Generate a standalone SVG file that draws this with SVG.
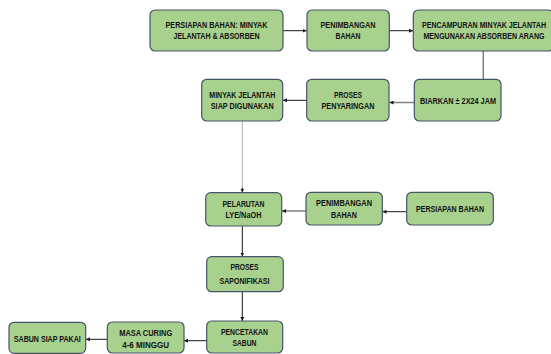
<svg xmlns="http://www.w3.org/2000/svg" width="551" height="354" viewBox="0 0 551 354">
<style>
.b{fill:#A9D18E;stroke:#44546A;stroke-width:1.2}
.t{font-family:"Liberation Sans",Arial,sans-serif;font-weight:bold;font-size:8.5px;fill:#111;text-anchor:middle}
.c{fill:none;stroke:#1a1a1a;stroke-width:1}
.g{fill:none;stroke:#7f7f7f;stroke-width:1.5}
.lg{fill:none;stroke:#b0b0b0;stroke-width:1}
</style>
<defs>
<marker id="a" viewBox="0 0 6 6" refX="6" refY="3" markerWidth="4" markerHeight="4" orient="auto" markerUnits="userSpaceOnUse"><path d="M0,0L6,3L0,6z" fill="#1a1a1a"/></marker>
</defs>
<rect width="551" height="354" fill="#fff"/>
<g id="connectors">
<path class="c" d="M283,30.7H306.5" marker-end="url(#a)"/>
<path class="c" d="M389.3,30.7H413" marker-end="url(#a)"/>
<path class="g" d="M483.3,51V79"/>
<path class="g" d="M414,102.5H389.5" marker-end="url(#a)"/>
<path class="c" d="M306.7,100.3H283" marker-end="url(#a)"/>
<path class="lg" d="M242.3,121V190"/>
<path class="c" d="M242.3,188V192.5" marker-end="url(#a)"/>
<path class="c" d="M406.7,211.7H382.5" marker-end="url(#a)"/>
<path class="g" d="M306,211H282" marker-end="url(#a)"/>
<path class="c" d="M242.3,226V256.5" marker-end="url(#a)"/>
<path class="c" d="M242.3,291.7V321" marker-end="url(#a)"/>
<path class="c" d="M206.7,340.7H184" marker-end="url(#a)"/>
<path class="c" d="M107.3,339.3H86" marker-end="url(#a)"/>
</g>
<g id="n1"><rect class="b" x="150" y="10" width="133" height="41" rx="5"/>
<text class="t" x="216.5" y="28" textLength="102" lengthAdjust="spacingAndGlyphs">PERSIAPAN BAHAN: MINYAK</text>
<text class="t" x="216.5" y="39" textLength="86" lengthAdjust="spacingAndGlyphs">JELANTAH &amp; ABSORBEN</text></g>
<g id="n2"><rect class="b" x="307" y="10" width="82.3" height="41" rx="5"/>
<text class="t" x="348" y="28" textLength="55" lengthAdjust="spacingAndGlyphs">PENIMBANGAN</text>
<text class="t" x="348" y="39" textLength="25" lengthAdjust="spacingAndGlyphs">BAHAN</text></g>
<g id="n3"><rect class="b" x="413.3" y="10" width="140" height="41" rx="5"/>
<text class="t" x="484" y="28" textLength="124" lengthAdjust="spacingAndGlyphs">PENCAMPURAN MINYAK JELANTAH</text>
<text class="t" x="484" y="39" textLength="121" lengthAdjust="spacingAndGlyphs">MENGUNAKAN ABSORBEN ARANG</text></g>
<g id="n4"><rect class="b" x="414.3" y="79.3" width="86.7" height="41.7" rx="5"/>
<text class="t" x="458" y="104" textLength="76" lengthAdjust="spacingAndGlyphs">BIARKAN ± 2X24 JAM</text></g>
<g id="n5"><rect class="b" x="306.7" y="79.3" width="82.3" height="41.7" rx="5"/>
<text class="t" x="348" y="98" textLength="28" lengthAdjust="spacingAndGlyphs">PROSES</text>
<text class="t" x="348" y="109.3" textLength="53" lengthAdjust="spacingAndGlyphs">PENYARINGAN</text></g>
<g id="n6"><rect class="b" x="201.7" y="79.3" width="81" height="41.7" rx="5"/>
<text class="t" x="242.3" y="98" textLength="66" lengthAdjust="spacingAndGlyphs">MINYAK JELANTAH</text>
<text class="t" x="242.3" y="109.3" textLength="63" lengthAdjust="spacingAndGlyphs">SIAP DIGUNAKAN</text></g>
<g id="n7"><rect class="b" x="205.7" y="192.7" width="76" height="33.3" rx="5"/>
<text class="t" x="243.5" y="207" textLength="42" lengthAdjust="spacingAndGlyphs">PELARUTAN</text>
<text class="t" x="243.5" y="218.3" textLength="36" lengthAdjust="spacingAndGlyphs">LYE/NaOH</text></g>
<g id="n8"><rect class="b" x="306" y="192.3" width="76.3" height="32.7" rx="5"/>
<text class="t" x="344" y="205.7" textLength="56" lengthAdjust="spacingAndGlyphs">PENIMBANGAN</text>
<text class="t" x="344" y="217.7" textLength="26" lengthAdjust="spacingAndGlyphs">BAHAN</text></g>
<g id="n9"><rect class="b" x="406.7" y="192.3" width="86.6" height="32.7" rx="5"/>
<text class="t" x="450" y="211.7" textLength="68" lengthAdjust="spacingAndGlyphs">PERSIAPAN BAHAN</text></g>
<g id="n10"><rect class="b" x="206.7" y="256.7" width="76.6" height="35" rx="5"/>
<text class="t" x="244.5" y="270.3" textLength="28" lengthAdjust="spacingAndGlyphs">PROSES</text>
<text class="t" x="244.5" y="283.7" textLength="50" lengthAdjust="spacingAndGlyphs">SAPONIFIKASI</text></g>
<g id="n11"><rect class="b" x="206.7" y="321" width="76" height="32" rx="5"/>
<text class="t" x="244.5" y="335" textLength="47" lengthAdjust="spacingAndGlyphs">PENCETAKAN</text>
<text class="t" x="244.5" y="346.3" textLength="24" lengthAdjust="spacingAndGlyphs">SABUN</text></g>
<g id="n12"><rect class="b" x="107.3" y="322" width="76.7" height="31" rx="5"/>
<text class="t" x="145.7" y="335.7" textLength="53" lengthAdjust="spacingAndGlyphs">MASA CURING</text>
<text class="t" x="145.7" y="347.7" textLength="47" lengthAdjust="spacingAndGlyphs">4-6 MINGGU</text></g>
<g id="n13"><rect class="b" x="9" y="322.3" width="76.7" height="31" rx="5"/>
<text class="t" x="47.3" y="342.3" textLength="67" lengthAdjust="spacingAndGlyphs">SABUN SIAP PAKAI</text></g>
</svg>
